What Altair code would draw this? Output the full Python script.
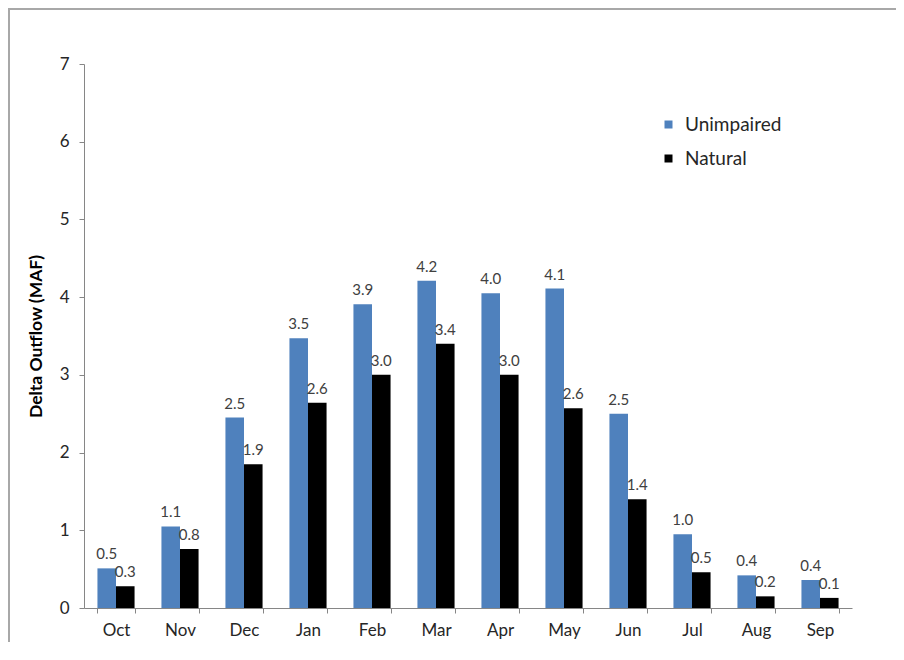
import altair as alt
import pandas as pd

months = ["Oct", "Nov", "Dec", "Jan", "Feb", "Mar", "Apr", "May", "Jun", "Jul", "Aug", "Sep"]
unimpaired = [0.51, 1.05, 2.45, 3.47, 3.91, 4.21, 4.05, 4.11, 2.50, 0.95, 0.42, 0.36]
natural = [0.28, 0.76, 1.85, 2.64, 3.00, 3.40, 3.00, 2.57, 1.40, 0.46, 0.15, 0.13]
unimpaired_labels = ["0.5", "1.1", "2.5", "3.5", "3.9", "4.2", "4.0", "4.1", "2.5", "1.0", "0.4", "0.4"]
natural_labels = ["0.3", "0.8", "1.9", "2.6", "3.0", "3.4", "3.0", "2.6", "1.4", "0.5", "0.2", "0.1"]
series = ["Unimpaired", "Natural"]
colors = ["#4F81BD", "#000000"]
y_ticks = [0, 1, 2, 3, 4, 5, 6, 7]

rows = []
for i, m in enumerate(months):
    rows.append({"month": m, "series": "Unimpaired", "value": unimpaired[i], "label": unimpaired_labels[i]})
    rows.append({"month": m, "series": "Natural", "value": natural[i], "label": natural_labels[i]})
df = pd.DataFrame(rows)

FONT = "Lato"
AXIS_COLOR = "#868686"
TEXT_COLOR = "#262626"

x = alt.X(
    "month:N",
    sort=months,
    scale=alt.Scale(paddingInner=0.42, paddingOuter=0.21),
    axis=alt.Axis(
        title=None,
        labelAngle=0,
        tickBand="extent",
        domainColor=AXIS_COLOR,
        tickColor=AXIS_COLOR,
        tickSize=5,
        labelFontSize=17,
        labelColor=TEXT_COLOR,
        labelFont=FONT,
        labelPadding=9,
    ),
)
xo = alt.XOffset("series:N", sort=series, scale=alt.Scale(paddingInner=0, paddingOuter=0))
y = alt.Y(
    "value:Q",
    scale=alt.Scale(domain=[0, 7], nice=False),
    axis=alt.Axis(
        title="Delta Outflow (MAF)",
        values=y_ticks,
        format="d",
        grid=False,
        domainColor=AXIS_COLOR,
        tickColor=AXIS_COLOR,
        tickSize=5,
        labelFontSize=17,
        labelColor=TEXT_COLOR,
        labelFont=FONT,
        labelPadding=10,
        titleFont=FONT,
        titleFontSize=17.5,
        titleFontWeight="bold",
        titleColor="#000000",
        titlePadding=14,
    ),
)

bars = alt.Chart(df).mark_bar().encode(
    x=x,
    xOffset=xo,
    y=y,
    color=alt.Color(
        "series:N",
        sort=series,
        scale=alt.Scale(domain=series, range=colors),
        legend=alt.Legend(
            title=None,
            orient="none",
            legendX=575,
            legendY=51,
            symbolType="square",
            symbolSize=64,
            symbolStrokeWidth=0,
            labelFontSize=19,
            labelFont=FONT,
            labelColor=TEXT_COLOR,
            rowPadding=14,
            labelOffset=7,
        ),
    ),
)

labels = alt.Chart(df).mark_text(
    baseline="alphabetic", dy=-9, fontSize=15, font=FONT, color="#404040"
).encode(
    x=x,
    xOffset=xo,
    y=alt.Y("value:Q"),
    text="label:N",
)

frame = alt.Chart(df).mark_rect(
    fill="transparent", stroke="#A8A8A8", strokeWidth=1.5
).encode(
    x=alt.value(-75), x2=alt.value(840), y=alt.value(-55), y2=alt.value(620)
)

chart = (
    alt.layer(frame, bars, labels)
    .properties(
        width=768,
        height=544,
        autosize=alt.AutoSizeParams(type="none"),
        padding={"left": 76, "top": 56, "right": 44, "bottom": 34},
    )
    .configure(background="white")
    .configure_view(stroke=None, strokeWidth=0)
)

chart.save("out.html", embed_options={"renderer": "svg", "actions": False})
